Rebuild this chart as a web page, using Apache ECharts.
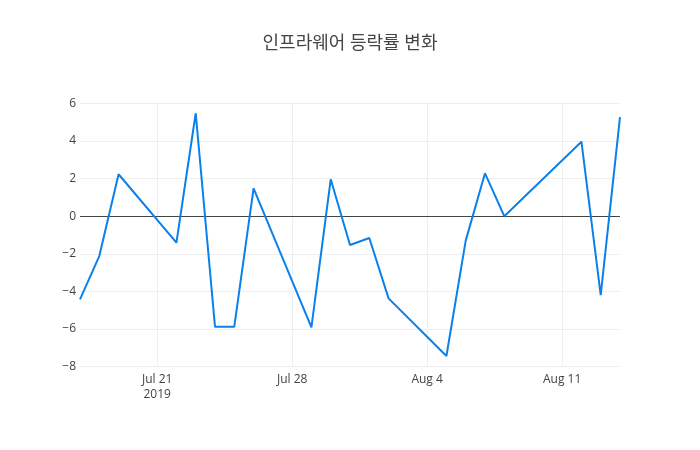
<!DOCTYPE html>
<html>
<head>
<meta charset="utf-8">
<script src="https://cdn.jsdelivr.net/npm/echarts@6/dist/echarts.min.js"></script>
<style>html,body{margin:0;padding:0;background:#fff;}#c{width:700px;height:450px;}</style>
</head>
<body>
<div id="c"></div>
<script>
const titleText = '인프라웨어 등락률 변화';
const dates = ['2019-07-17','2019-07-18','2019-07-19','2019-07-22','2019-07-23','2019-07-24','2019-07-25','2019-07-26',
  '2019-07-29','2019-07-30','2019-07-31','2019-08-01','2019-08-02','2019-08-05','2019-08-06','2019-08-07','2019-08-08',
  '2019-08-12','2019-08-13','2019-08-14'];
const values = [-4.42,-2.12,2.23,-1.41,5.47,-5.87,-5.87,1.48,-5.91,1.96,-1.53,-1.16,-4.37,-7.43,-1.30,2.28,0.00,3.96,-4.19,5.26];
const xTickDates = ['2019-07-21','2019-07-28','2019-08-04','2019-08-11'];
const xTickLabels = ['Jul 21\n2019','Jul 28','Aug 4','Aug 11'];
const yMin = -8, yMax = 6, yStep = 2;

const DAY = 86400000;
const base = Date.parse('2019-07-21T00:00:00Z');
const toDay = d => Math.round((Date.parse(d + 'T00:00:00Z') - base) / DAY);
const xs = dates.map(toDay);
const tickXs = xTickDates.map(toDay);
const font = '"Open Sans", "Noto Sans CJK KR", sans-serif';

const chart = echarts.init(document.getElementById('c'), null, {renderer: 'canvas'});
chart.setOption({
  backgroundColor: '#fff',
  animation: false,
  title: {
    text: titleText, left: 'center', top: 35, padding: 0,
    textStyle: {fontFamily: font, fontSize: 18, fontWeight: 'normal', color: '#444'}
  },
  grid: {left: 80, right: 80, top: 103.3, bottom: 83.3, containLabel: false},
  xAxis: {
    type: 'value', min: xs[0], max: xs[xs.length - 1], interval: 1,
    axisLine: {show: false}, axisTick: {show: false}, splitLine: {show: false},
    axisLabel: {
      margin: 5, fontFamily: font, fontSize: 12, color: '#444', lineHeight: 15,
      showMinLabel: true, showMaxLabel: true,
      formatter: v => { const i = tickXs.indexOf(v); return i >= 0 ? xTickLabels[i] : ''; }
    }
  },
  yAxis: {
    type: 'value', min: yMin, max: yMax, interval: yStep,
    axisLine: {show: false}, axisTick: {show: false},
    splitLine: {show: true, lineStyle: {color: '#eee', width: 1}},
    axisLabel: {margin: 4, fontFamily: font, fontSize: 12, color: '#444',
      formatter: v => String(v).replace('-', '\u2212')}
  },
  series: [
    {
      type: 'line', data: [], silent: true, z: 1,
      markLine: {
        silent: true, z: 1, symbol: ['none', 'none'], animation: false,
        label: {show: false},
        lineStyle: {type: 'solid', color: '#eee', width: 1},
        data: tickXs.map(x => ({xAxis: x})).concat([{yAxis: 0, lineStyle: {color: '#444', width: 1, type: 'solid'}}])
      }
    },
    {
      type: 'line', z: 3,
      data: xs.map((x, i) => [x, values[i]]),
      showSymbol: false, symbol: 'none',
      lineStyle: {color: 'rgb(10,128,235)', width: 2},
      itemStyle: {color: 'rgb(10,128,235)'}
    }
  ]
});
</script>
</body>
</html>
